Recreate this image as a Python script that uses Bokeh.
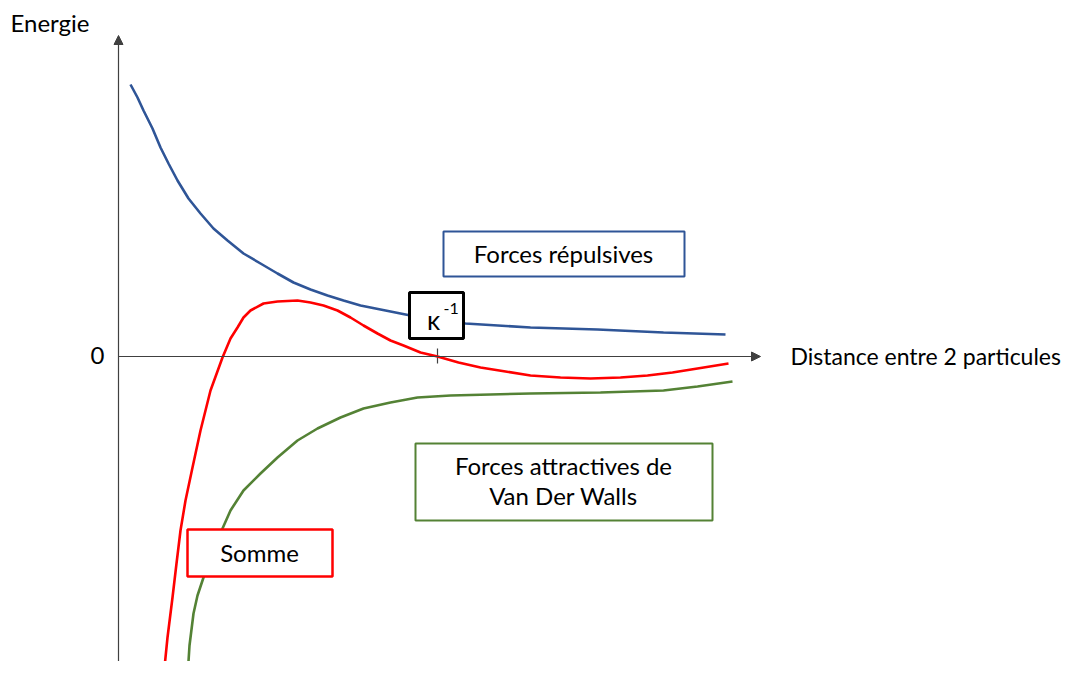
from bokeh.plotting import figure
from bokeh.models import Range1d, Arrow, NormalHead
from bokeh.core.properties import value
from bokeh.embed import file_html
from bokeh.resources import INLINE

# Distance (x) and energy (y) values (arbitrary units)
rep_x = [12, 19, 25, 34, 42, 50, 59, 70, 82, 95, 109, 125, 142, 159, 175, 192, 209, 225,
         242, 267, 292, 319, 347, 412, 479, 545, 607]
rep_y = [272, 259, 246, 228, 209, 193, 176, 158, 143, 128, 116, 103, 93, 83, 74, 67, 61, 56,
         51, 46, 41, 37, 33, 29, 27, 24, 22]

sum_x = [45, 49, 54, 58, 62, 67, 74, 82, 92, 104, 112, 119, 125, 132, 145, 159, 179, 192, 205,
         219, 232, 245, 259, 272, 285, 302, 319, 340, 362, 387, 412, 442, 472, 502, 529, 554,
         579, 610]
sum_y = [-321, -281, -241, -207, -174, -144, -111, -74, -34, -1, 18, 29, 39, 46, 53, 55, 56, 54,
         51, 46, 39, 31, 23, 16, 11, 4, 0, -6, -11, -15, -19, -21, -22, -21, -19, -16, -12, -7]

att_x = [69, 71, 75, 79, 85, 94, 104, 112, 125, 142, 159, 179, 199, 222, 245, 272, 299, 332,
         372, 412, 482, 545, 579, 614]
att_y = [-321, -289, -257, -239, -221, -194, -172, -154, -134, -117, -101, -84, -72, -61, -52,
         -46, -41, -39, -38, -37, -36, -34, -30, -25]

kappa_x = 319

FONT = value("Lato")
BLUE = "#2F5597"
RED = "#FF0000"
GREEN = "#548235"
AXC = "#404040"

p = figure(width=1065, height=661, output_backend="svg", toolbar_location=None,
           x_range=Range1d(-118, 947), y_range=Range1d(-305, 356),
           x_axis_type=None, y_axis_type=None, min_border=0,
           outline_line_color=None)
p.grid.visible = False

# axes drawn as arrows
p.add_layout(Arrow(end=NormalHead(size=9, fill_color=AXC, line_color=AXC),
                   x_start=0, y_start=-330, x_end=0, y_end=321,
                   line_color=AXC, line_width=1.2))
p.add_layout(Arrow(end=NormalHead(size=9, fill_color=AXC, line_color=AXC),
                   x_start=0, y_start=0, x_end=642, y_end=0,
                   line_color=AXC, line_width=1.2))
p.segment(x0=[kappa_x], y0=[-7], x1=[kappa_x], y1=[8], line_color=AXC, line_width=1.2)

# curves
p.line(rep_x, rep_y, line_color=BLUE, line_width=2.6)
p.line(att_x, att_y, line_color=GREEN, line_width=2.6)
p.line(sum_x, sum_y, line_color=RED, line_width=2.6)

# boxes
p.quad(left=[325], right=[566], top=[125], bottom=[80], fill_color="white",
       line_color=BLUE, line_width=2)
p.quad(left=[297], right=[594], top=[-87], bottom=[-164], fill_color="white",
       line_color=GREEN, line_width=2)
p.quad(left=[69], right=[214], top=[-173], bottom=[-220], fill_color="white",
       line_color=RED, line_width=2.5)
p.quad(left=[291], right=[345], top=[64], bottom=[18], fill_color="white",
       line_color="black", line_width=3)

FS = "24px"
# texts
p.text(x=[445], y=[103], text=["Forces répulsives"], text_font=FONT, text_font_size=FS,
       text_align="center", text_baseline="middle", text_color="black")
p.text(x=[445, 445], y=[-109, -139], text=["Forces attractives de", "Van Der Walls"],
       text_font=FONT, text_font_size=FS, text_align="center",
       text_baseline="middle", text_color="black")
p.text(x=[141], y=[-196], text=["Somme"], text_font=FONT, text_font_size=FS,
       text_align="center", text_baseline="middle", text_color="black")
p.text(x=[315], y=[37], text=["κ"], text_font=FONT, text_font_size="26px",
       text_align="center", text_baseline="middle", text_color="black")
p.text(x=[325], y=[48], text=["-1"], text_font=FONT, text_font_size="16px",
       text_align="left", text_baseline="middle", text_color="black")
p.text(x=[-108], y=[334], text=["Energie"], text_font=FONT, text_font_size=FS,
       text_align="left", text_baseline="middle", text_color="black")
p.text(x=[-21], y=[1], text=["0"], text_font=FONT, text_font_size=FS,
       text_align="center", text_baseline="middle", text_color="black")
p.text(x=[672], y=[1], text=["Distance entre 2 particules"], text_font=FONT,
       text_font_size="23px", text_align="left", text_baseline="middle", text_color="black")

open("out.html", "w").write(file_html(p, INLINE))
